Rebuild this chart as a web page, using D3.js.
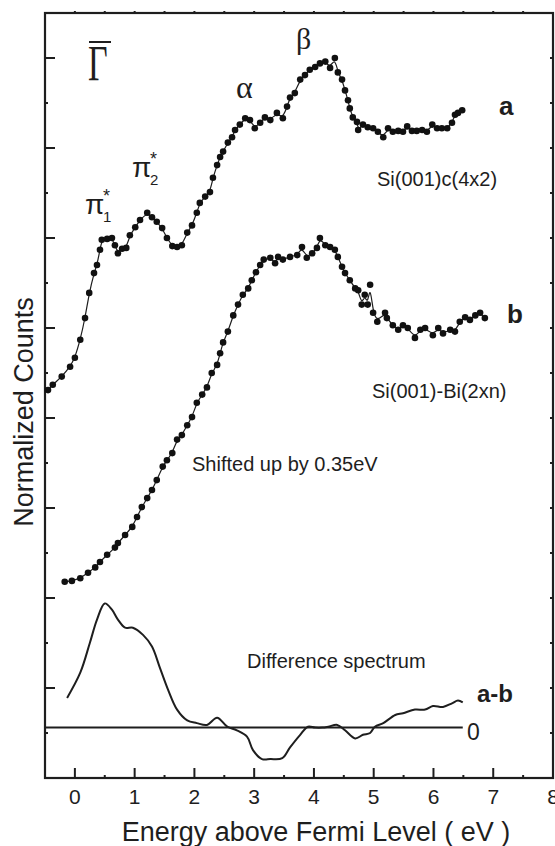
<!DOCTYPE html>
<html>
<head>
<meta charset="utf-8">
<script src="https://cdn.jsdelivr.net/npm/d3@7"></script>
<style>
  body { margin: 0; background: #fff; }
  svg { display: block; }
</style>
</head>
<body>
<div id="chart"></div>
<script>
// ---- data ----
const energyA = [-0.45,-0.37,-0.22,-0.08,0.00,0.09,0.17,0.24,0.32,0.37,
  0.42,0.45,0.54,0.62,0.67,0.72,0.79,0.86,0.92,1.01,
  1.09,1.21,1.29,1.37,1.46,1.54,1.63,1.71,1.79,1.88,
  1.96,2.04,2.09,2.18,2.26,2.31,2.38,2.43,2.48,2.56,
  2.63,2.68,2.76,2.85,2.93,3.01,3.10,3.18,3.27,3.38,
  3.48,3.55,3.60,3.68,3.77,3.85,3.93,4.02,4.10,4.19,
  4.27,4.35,4.40,4.47,4.52,4.57,4.60,4.65,4.72,4.74,
  4.82,4.90,4.99,5.07,5.16,5.24,5.32,5.41,5.49,5.56,
  5.64,5.72,5.81,5.89,5.98,6.06,6.14,6.23,6.31,6.36,
  6.41,6.48];
const countsA = [4.31,4.37,4.46,4.57,4.67,4.87,5.11,5.39,5.61,5.70,
  5.87,5.98,5.99,6.00,5.92,5.83,5.88,5.89,6.03,6.12,
  6.20,6.28,6.23,6.18,6.11,6.00,5.91,5.90,5.92,6.06,
  6.14,6.28,6.39,6.46,6.51,6.67,6.81,6.90,6.96,7.06,
  7.12,7.20,7.26,7.33,7.31,7.22,7.28,7.34,7.31,7.39,
  7.33,7.46,7.56,7.61,7.76,7.81,7.87,7.90,7.94,7.96,
  7.89,8.00,7.84,7.76,7.64,7.53,7.44,7.34,7.29,7.20,
  7.26,7.23,7.22,7.18,7.12,7.22,7.18,7.19,7.18,7.24,
  7.19,7.19,7.20,7.18,7.26,7.22,7.22,7.22,7.28,7.37,
  7.39,7.42];

const energyB = [-0.17,-0.05,0.09,0.22,0.34,0.42,0.54,0.67,0.72,0.84,
  0.96,1.04,1.12,1.21,1.29,1.37,1.47,1.54,1.63,1.71,
  1.79,1.88,1.96,2.04,2.13,2.21,2.29,2.38,2.43,2.48,
  2.56,2.65,2.73,2.81,2.90,2.96,3.03,3.10,3.16,3.27,
  3.35,3.40,3.48,3.60,3.72,3.80,3.88,3.97,4.05,4.10,
  4.19,4.27,4.35,4.40,4.47,4.52,4.60,4.69,4.74,4.80,
  4.85,4.90,4.94,4.99,5.06,5.19,5.22,5.32,5.41,5.49,
  5.57,5.69,5.78,5.86,5.99,6.08,6.16,6.28,6.36,6.44,
  6.53,6.61,6.70,6.78,6.86];
const countsB = [2.18,2.19,2.22,2.28,2.34,2.40,2.48,2.56,2.61,2.70,
  2.79,2.90,3.01,3.11,3.20,3.31,3.46,3.53,3.61,3.76,
  3.81,3.92,4.01,4.17,4.26,4.34,4.50,4.59,4.72,4.84,
  4.96,5.14,5.26,5.37,5.44,5.53,5.62,5.70,5.76,5.78,
  5.72,5.79,5.76,5.79,5.81,5.90,5.78,5.83,5.89,6.00,
  5.92,5.90,5.87,5.79,5.68,5.61,5.53,5.44,5.42,5.26,
  5.37,5.26,5.48,5.17,5.07,5.17,5.11,5.03,4.98,5.03,
  5.00,4.89,4.98,5.00,4.92,5.00,4.94,4.98,4.96,5.07,
  5.12,5.09,5.14,5.17,5.11];

const energyDiff = [-0.13,0.09,0.25,0.37,0.50,0.62,0.72,0.84,0.97,1.14,
  1.29,1.42,1.56,1.71,1.88,2.04,2.21,2.38,2.55,2.71,
  2.88,2.98,3.13,3.27,3.47,3.60,3.77,3.90,4.02,4.14,
  4.24,4.39,4.52,4.69,4.82,4.94,5.02,5.16,5.36,5.49,
  5.69,5.86,5.99,6.16,6.31,6.41,6.49];
const countsDiff = [0.89,1.17,1.50,1.76,1.94,1.87,1.76,1.67,1.67,1.59,
  1.46,1.23,0.98,0.76,0.64,0.61,0.59,0.67,0.57,0.53,
  0.46,0.31,0.21,0.21,0.22,0.34,0.48,0.57,0.56,0.56,
  0.57,0.59,0.53,0.44,0.48,0.50,0.57,0.61,0.70,0.72,
  0.76,0.76,0.80,0.79,0.83,0.86,0.84];
const diffZero = 0.56;           // baseline of the difference spectrum
const zeroLineEnd = 6.49;

const xMajor = [0, 1, 2, 3, 4, 5, 6, 7, 8];
const xMinor = [0.5, 1.5, 2.5, 3.5, 4.5, 5.5, 6.5, 7.5];
const xTop = [0, 0.5, 1, 1.5, 2, 2.5, 3, 3.5, 4, 4.5, 5, 5.5, 6, 6.5, 7, 7.5];
const yMajor = [1, 2, 3, 4, 5, 6, 7, 8];
const yMinor = [0.5, 1.5, 2.5, 3.5, 4.5, 5.5, 6.5, 7.5];
const yRight = [0.5, 1, 1.5, 2, 2.5, 3, 3.5, 4, 4.5, 5, 5.5, 6, 6.5, 7, 7.5, 8];

// ---- layout ----
const width = 555, height = 846;
const margin = { top: 13, right: 2, bottom: 68, left: 45 };
const ink = "#1e1e1e";
const sans = "'Liberation Sans', Arial, sans-serif";
const serif = "'Liberation Serif', 'Times New Roman', serif";

const svg = d3.select("#chart").append("svg")
  .attr("width", width)
  .attr("height", height);

const x = d3.scaleLinear().domain([-0.5, 8]).range([margin.left, width - margin.right]);
const y = d3.scaleLinear().domain([0, 8.5]).range([height - margin.bottom, margin.top]);

const x0 = x(-0.5), x1 = x(8), yb = y(0), yt = y(8.5);

// tick marks drawn through the scales
const ticksX = (vals, yy, len) =>
  svg.append("g").selectAll("line").data(vals).join("line")
    .attr("x1", d => x(d)).attr("x2", d => x(d))
    .attr("y1", yy).attr("y2", yy + len)
    .attr("stroke", ink).attr("stroke-width", 2);
const ticksY = (vals, xx, len) =>
  svg.append("g").selectAll("line").data(vals).join("line")
    .attr("y1", d => y(d)).attr("y2", d => y(d))
    .attr("x1", xx).attr("x2", xx + len)
    .attr("stroke", ink).attr("stroke-width", 2);

ticksX(xMajor, yb, -10);
ticksX(xMinor, yb, -3);
ticksX(xTop, yt, -2);
ticksY(yMajor, x0, 10);
ticksY(yMinor, x0, 3);
ticksY(yRight, x1, -3);

// x tick labels
svg.append("g").selectAll("text").data(xMajor).join("text")
  .attr("x", d => x(d))
  .attr("y", yb + 26)
  .attr("text-anchor", "middle")
  .attr("font-family", sans)
  .attr("font-size", 21)
  .attr("fill", ink)
  .text(d3.format("d"));

// frame
svg.append("rect")
  .attr("x", x0).attr("y", yt)
  .attr("width", x1 - x0).attr("height", yb - yt)
  .attr("fill", "none").attr("stroke", ink).attr("stroke-width", 2.2);

// ---- spectra ----
const seriesA = energyA.map((e, i) => ({ e, c: countsA[i] }));
const seriesB = energyB.map((e, i) => ({ e, c: countsB[i] }));
const seriesD = energyDiff.map((e, i) => ({ e, c: countsDiff[i] }));

const fitLine = d3.line().x(d => x(d.e)).y(d => y(d.c)).curve(d3.curveBasis);
const diffLine = d3.line().x(d => x(d.e)).y(d => y(d.c)).curve(d3.curveCatmullRom);

[seriesA, seriesB].forEach(s => {
  svg.append("path")
    .datum(s)
    .attr("fill", "none")
    .attr("stroke", ink)
    .attr("stroke-width", 1.2)
    .attr("d", fitLine);
  svg.append("g").selectAll("circle")
    .data(s)
    .join("circle")
    .attr("cx", d => x(d.e))
    .attr("cy", d => y(d.c))
    .attr("r", 3.3)
    .attr("fill", "#111");
});

// zero line + difference spectrum
svg.append("line")
  .attr("x1", x0).attr("x2", x(zeroLineEnd))
  .attr("y1", y(diffZero)).attr("y2", y(diffZero))
  .attr("stroke", ink).attr("stroke-width", 2);

svg.append("path")
  .datum(seriesD)
  .attr("fill", "none")
  .attr("stroke", ink)
  .attr("stroke-width", 2)
  .attr("stroke-linejoin", "round")
  .attr("d", diffLine);

// ---- labels ----
const label = (txt, px, py, size, opts = {}) =>
  svg.append("text")
    .attr("x", px).attr("y", py)
    .attr("font-family", opts.family || sans)
    .attr("font-size", size)
    .attr("font-weight", opts.weight || "normal")
    .attr("text-anchor", opts.anchor || "start")
    .attr("fill", ink)
    .text(txt);

// Gamma-bar
svg.append("text")
  .attr("transform", "translate(88,80) scale(0.68,1)")
  .attr("font-family", serif).attr("font-size", 50).attr("fill", ink)
  .text("Γ");
svg.append("line")
  .attr("x1", 89).attr("x2", 111).attr("y1", 42).attr("y2", 42)
  .attr("stroke", ink).attr("stroke-width", 2);

// pi labels: pi, superscript star, subscript index
const piLabel = (px, py, sub) => {
  label("π", px, py, 28);
  label("*", px + 18, py - 12, 18);
  label(sub, px + 18, py + 8, 15);
};
piLabel(85, 214, "1");
piLabel(132, 177, "2");

label("α", 236, 98, 32, { family: serif });
label("β", 296, 49, 30, { family: serif });

label("a", 499, 115, 26, { weight: "bold" });
label("b", 507, 323, 26, { weight: "bold" });
label("a-b", 477, 702, 24, { weight: "bold" });
label("0", 467, 740, 23);

label("Si(001)c(4x2)", 377, 186, 20);
label("Si(001)-Bi(2xn)", 372, 398, 20);
label("Shifted up by 0.35eV", 192, 471, 20);
label("Difference spectrum", 247, 668, 20);

// axis titles
label("Energy above Fermi Level ( eV )", 316, 841, 27, { anchor: "middle" });
svg.append("text")
  .attr("transform", "translate(33,412) rotate(-90)")
  .attr("text-anchor", "middle")
  .attr("font-family", sans).attr("font-size", 27).attr("fill", ink)
  .text("Normalized Counts");
</script>
</body>
</html>
